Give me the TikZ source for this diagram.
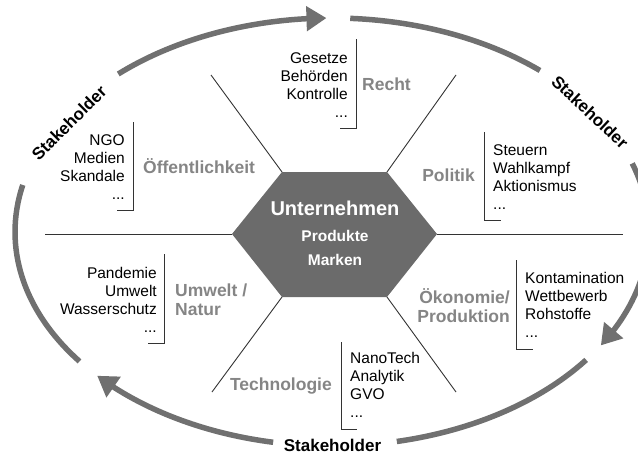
\documentclass[tikz,border=0pt]{standalone}
\usepackage{fontspec}
\setmainfont{Liberation Sans}
\usetikzlibrary{arrows.meta,bending}
\definecolor{arcgray}{HTML}{707070}
\definecolor{hexgray}{HTML}{6B6B6B}
\definecolor{lblgray}{HTML}{858585}
\definecolor{linegray}{HTML}{333333}
\newcommand\rlist[1]{\begin{tabular}[t]{@{}r@{}}#1\end{tabular}}
\newcommand\llist[1]{\begin{tabular}[t]{@{}l@{}}#1\end{tabular}}
\begin{document}
\begin{tikzpicture}[x=1pt,y=-1pt,
  lst/.style={font=\fontsize{15.5}{18}\selectfont, inner sep=0pt},
  lbl/.style={font=\fontsize{17.5}{19}\selectfont\bfseries, text=lblgray, inner sep=0pt},
  stk/.style={font=\fontsize{17}{20}\selectfont\bfseries, inner sep=0pt},
  hextext/.style={text=white, inner sep=0pt, anchor=base},
  spoke/.style={draw=linegray, line width=0.9pt},
  brk/.style={draw=linegray, line width=1pt},
  ring/.style={draw=arcgray, line width=5.5pt},
  ringarrow/.style={ring, -{Triangle[length=20pt,width=24pt]}},
]
\useasboundingbox (0,0) rectangle (638,455);
\clip (0,0) rectangle (638,455);

% outer ring
\coordinate (rc) at (332,232);
\draw[ring] (rc) ++(142.8:317 and 214) arc[start angle=142.8,end angle=192.7,x radius=317,y radius=214];
\draw[ringarrow] (rc) ++(227.6:317 and 214) arc[start angle=227.6,end angle=269,x radius=317,y radius=214];
\draw[ring] (rc) ++(273.3:317 and 214) arc[start angle=273.3,end angle=311,x radius=317,y radius=214];
\draw[ringarrow] (rc) ++(341.3:317 and 214) arc[start angle=341.3,end angle=392,x radius=317,y radius=214];
\draw[ring] (rc) ++(36.7:317 and 214) arc[start angle=36.7,end angle=78.2,x radius=317,y radius=214];
\draw[ringarrow] (rc) ++(100.7:317 and 214) arc[start angle=100.7,end angle=137.8,x radius=317,y radius=214];

% hexagon corners and spoke ends
\coordinate (hL) at (232,234);
\coordinate (hTL) at (282,172);
\coordinate (hTR) at (387,172);
\coordinate (hR) at (437,234);
\coordinate (hBR) at (387,297);
\coordinate (hBL) at (282,297);
\coordinate (sL) at (45,234);
\coordinate (sTL) at (211,75);
\coordinate (sTR) at (456,75);
\coordinate (sR) at (623,234);
\coordinate (sBR) at (456,392);
\coordinate (sBL) at (212,392);

\draw[spoke] (hL) -- (sL);
\draw[spoke] (hTL) -- (sTL);
\draw[spoke] (hTR) -- (sTR);
\draw[spoke] (hR) -- (sR);
\draw[spoke] (hBR) -- (sBR);
\draw[spoke] (hBL) -- (sBL);

\fill[hexgray] (hL) -- (hTL) -- (hTR) -- (hR) -- (hBR) -- (hBL) -- cycle;
\node[hextext, font=\fontsize{20}{24}\selectfont\bfseries] (unt) at (335,215) {Unternehmen};
\node[hextext, font=\fontsize{15.5}{24.7}\selectfont\bfseries] (prod) at (335,241) {\begin{tabular}[t]{@{}c@{}}Produkte\\Marken\end{tabular}};

% Recht
\node[lst, anchor=base east] (rechtL) at (348,63.5) {\rlist{Gesetze\\Behörden\\Kontrolle\\...}};
\node[lbl, anchor=base west] (recht) at (362,90.5) {Recht};
\draw[brk] (356,39) -- (356,128) -- (340,128);

% Oeffentlichkeit
\node[lst, anchor=base east] (oeffL) at (125,145) {\rlist{NGO\\Medien\\Skandale\\...}};
\node[lbl, anchor=base west] (oeff) at (143,173.5) {Öffentlichkeit};
\draw[brk] (133,122) -- (133,210) -- (117,210);

% Politik
\node[lbl, anchor=base east] (pol) at (475,181.5) {Politik};
\node[lst, anchor=base west] (polL) at (493,155) {\llist{Steuern\\Wahlkampf\\Aktionismus\\...}};
\draw[brk] (484,132) -- (484,220) -- (501,220);

% Umwelt
\node[lst, anchor=base east] (umwL) at (157,278) {\rlist{Pandemie\\Umwelt\\Wasserschutz\\...}};
\node[lbl, anchor=base west] (umw) at (175,296.5) {\llist{Umwelt /\\Natur}};
\draw[brk] (164,254) -- (164,343) -- (148,343);

% Oekonomie
\node[lbl, anchor=base east] (oek) at (510,303) {\rlist{Ökonomie/\\Produktion}};
\node[lst, anchor=base west] (oekL) at (525,283) {\llist{Kontamination\\Wettbewerb\\Rohstoffe\\...}};
\draw[brk] (516,260) -- (516,349) -- (533,349);

% Technologie
\node[lbl, anchor=base east] (tech) at (332,390) {Technologie};
\node[lst, anchor=base west] (techL) at (350,363) {\llist{NanoTech\\Analytik\\GVO\\...}};
\draw[brk] (341,342) -- (341,429) -- (357,429);

% Stakeholder labels
\node[stk, rotate=45] (skL) at (69,123) {Stakeholder};
\node[stk, rotate=-43] (skR) at (590,112) {Stakeholder};
\node[stk, anchor=base] (skB) at (332.5,451) {Stakeholder};
\end{tikzpicture}
\end{document}
